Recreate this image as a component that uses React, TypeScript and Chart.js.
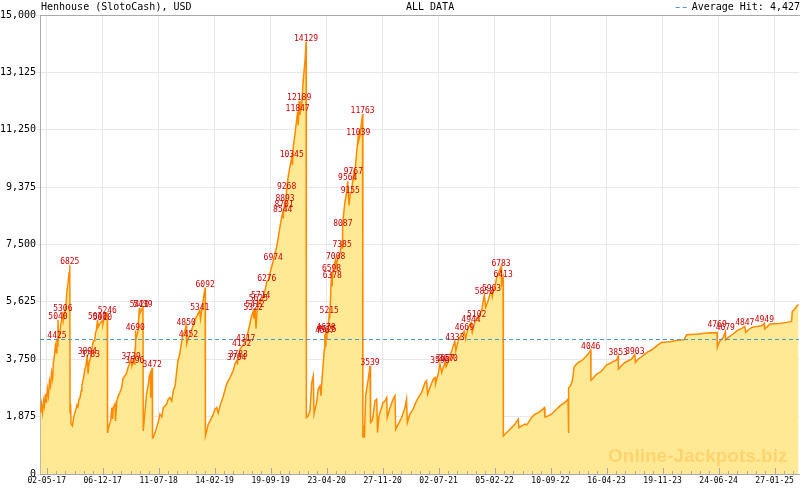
import React, { useEffect, useRef } from "react";
import { Chart, registerables } from "chart.js";

Chart.register(...registerables);

const TITLE = "Henhouse (SlotoCash), USD";
const SUBTITLE = "ALL DATA";
const AVERAGE_HIT = 4427;

// x tick labels, one every 218 days starting at day 0 (02-05-17)
const tickLabels = [
  "02-05-17", "06-12-17", "11-07-18", "14-02-19", "19-09-19", "23-04-20", "27-11-20",
  "02-07-21", "05-02-22", "10-09-22", "16-04-23", "19-11-23", "24-06-24", "27-01-25",
];
const tickStepDays = 218;
const yTicks = [0, 1875, 3750, 5625, 7500, 9375, 11250, 13125, 15000];

// jackpot series: day offset from 02-05-17, value in USD
const days = [
  -24, -20, -16, -12, -9, -5, -1, 3, 7, 11, 15, 19, 23, 26, 30, 34, 38, 40, 42, 44, 46, 52, 56, 60, 63, 65, 71, 75, 79, 83, 87, 90, 91, 93, 95,
  100, 106, 112, 118, 122, 126, 130, 134, 137, 141, 145, 149, 153, 158, 161, 165, 170, 174, 178, 182, 187, 190, 193, 198, 200, 206, 210, 217, 219, 226, 231, 236, 237,
  241, 249, 254, 257, 259, 266, 268, 273, 279, 285, 292, 297, 310, 317, 327, 329, 332, 336, 343, 344, 345, 347, 355, 361, 363, 368, 375, 376,
  383, 389, 396, 400, 404, 405, 407, 411, 412,
  415, 422, 428, 434, 441, 448, 454, 461, 467, 473, 480, 487, 493, 500, 505, 511, 518, 524, 531, 537, 543, 545, 552, 557, 563, 570, 576, 582, 589, 596, 599, 605, 611, 617, 618,
  623, 629, 636, 649, 655, 662, 668, 675, 688, 701, 714, 726, 733, 740, 743, 746, 753, 759, 762, 775, 785, 791, 798, 804, 807, 811, 815, 819, 824, 830, 833, 838, 850, 857, 862, 869, 882, 895, 902, 908, 915, 919, 921, 924, 928, 931, 934, 940, 947, 954, 957, 960, 967, 973, 977, 979, 983, 986, 993, 999, 1006, 1010, 1011,
  1018, 1025, 1032, 1038, 1041, 1045, 1051, 1057, 1064, 1068, 1072, 1077, 1081, 1083, 1085, 1087, 1089, 1091, 1096, 1100, 1102, 1106, 1109, 1111, 1112, 1116, 1122, 1125, 1128, 1135, 1142, 1148, 1150, 1151, 1153, 1155, 1161, 1168, 1172, 1177, 1182, 1187, 1194, 1196, 1200, 1207, 1213, 1215, 1220, 1226, 1230, 1231,
  1233, 1237, 1242, 1246, 1252, 1259, 1261, 1267, 1271, 1278, 1285, 1288, 1294, 1304, 1309, 1317, 1324, 1326, 1337, 1349, 1356, 1359, 1369, 1382, 1395, 1401, 1404, 1414, 1427, 1434, 1447, 1460, 1473, 1479, 1483, 1492, 1505, 1512, 1514, 1524, 1531, 1538, 1551, 1555, 1563, 1577, 1583, 1589, 1593, 1602, 1616, 1626, 1631, 1641, 1652, 1657, 1667, 1674, 1679, 1693, 1700, 1704, 1709, 1719, 1726, 1732, 1735, 1739, 1745, 1752, 1758, 1769, 1771, 1777, 1778,
  1784, 1797, 1810, 1823, 1836, 1839, 1849, 1862, 1869, 1875, 1888, 1901, 1914, 1927, 1937, 1940, 1953, 1966, 1972, 1985, 1998, 2011, 2024, 2030, 2031, 2033, 2040, 2048, 2053, 2057, 2070, 2083, 2096, 2108, 2118, 2119, 2128, 2141, 2154, 2167, 2180, 2193, 2206, 2219, 2225, 2226, 2238, 2251, 2264, 2277, 2290, 2292, 2303, 2316, 2329, 2342, 2355, 2368, 2381, 2394, 2427, 2446, 2466, 2481, 2492, 2537, 2569, 2610, 2611, 2618, 2628, 2634, 2642, 2643, 2653, 2667, 2680, 2692, 2706, 2718, 2721, 2731, 2745, 2764, 2784, 2794, 2795, 2803, 2816, 2855, 2881, 2900, 2903, 2913, 2922, 2927,
];
const values = [
  2000, 2290, 2000, 2390, 2230, 2620, 2325, 2785, 2555, 3045, 2880, 3310, 3110, 3635, 3865, 4190, 3960, 4425, 4190, 5040, 4420, 4685, 4945, 5075, 5306, 5010, 5275, 5500, 5995, 6220, 6580, 6825, 2000, 2300, 1640,
  1572, 1900, 2063, 2260, 2194, 2456, 2489, 2718, 2882, 3046, 3210, 3439, 3537, 3894, 3275, 3635, 3783, 3996, 4192, 4356, 4356, 4618, 4683, 5040, 4800, 4900, 4960, 5010, 4900, 5175, 5240, 5246, 1343,
  1516, 1736, 2171, 1800, 2171, 2293, 1736, 2391, 2555, 2663, 2826, 3111, 3275, 3481, 3701, 3739, 3537, 3635, 3596, 4100, 4690, 4350, 4650, 5420, 5250, 5350, 5439, 1408,
  2063, 2620, 2948, 3210, 3308, 2489, 3275, 3472, 1179,
  1189, 1353, 1516, 1680, 1955, 1867, 2171, 2227, 2283, 2446, 2499, 2391, 2718, 2882, 3265, 3701, 3920, 4248, 4575, 4650, 4850, 4248, 4452, 4520, 4683, 4847, 5011, 5119, 5230, 5341, 5076, 5446, 5774, 6092, 1245,
  1408, 1628, 1736, 1955, 2119, 2171, 1998, 2227, 2555, 2948, 3154, 3373, 3593, 3704, 3635, 3783, 4094, 4152, 4192, 4317, 4683, 4903, 5175, 5322, 5076, 5412, 4749, 5338, 5625, 5568, 5714, 5666, 5993, 6276, 6321, 6540, 6974, 7411, 7739, 8066, 8394, 8544, 8351, 8701, 8893, 8777, 9268, 9704, 10031, 10345, 10087, 10686, 11125, 11561, 11847, 11397, 12189, 11725, 12108, 12871, 13526, 14129, 1844,
  1900, 2063, 2990, 3210, 1965, 2119, 2335, 2774, 2882, 2555, 3101, 3645, 4084, 4567, 4192, 4678, 4421, 4625, 4847, 5215, 5076, 5938, 6598, 6157, 6378, 6704, 6920, 7008, 6812, 7140, 7200, 7500, 7385, 7600, 8087, 8400, 8885, 9213, 9564, 8777, 9155, 9213, 9767, 9596, 9868, 10523, 11039, 10906, 11070, 11505, 11763, 1189,
  1572, 1189, 2555, 2774, 3101, 3539, 1680, 1736, 1900, 2391, 2446, 1353, 1900, 2171, 2325, 2391, 2499, 1844, 2171, 2446, 2555, 1464, 1628, 1844, 2171, 2446, 1680, 1955, 2119, 2283, 2499, 2663, 2990, 3046, 2610, 2826, 3101, 3154, 2948, 3265, 3596, 3318, 3657, 3504, 3670, 4028, 4192, 4333, 4028, 4356, 4575, 4669, 4411, 4791, 4944, 4628, 4955, 5102, 5076, 5338, 5666, 5850, 5446, 5666, 5885, 5963, 5797, 5993, 6101, 6429, 6540, 6783, 6213, 6413, 1245,
  1300, 1408, 1516, 1628, 1791, 1516, 1572, 1628, 1605, 1680, 1844, 1955, 2008, 2086, 2171, 1867, 1900, 1955, 2008, 2119, 2227, 2302, 2391, 2446, 1343, 2826, 2882, 3101, 3481, 3537, 3645, 3701, 3809, 3920, 4046, 3069, 3134, 3265, 3318, 3429, 3570, 3612, 3678, 3724, 3853, 3429, 3537, 3645, 3701, 3756, 3903, 3645, 3756, 3832, 3920, 3996, 4051, 4136, 4225, 4300, 4323, 4356, 4379, 4389, 4552, 4575, 4608, 4620, 4136, 4300, 4411, 4464, 4640, 4379, 4464, 4542, 4628, 4706, 4759, 4820, 4628, 4706, 4791, 4824, 4847, 4930, 4739, 4791, 4903, 4922, 4955, 4988, 5315, 5394, 5502, 5535,
];

// labelled hits
const hitDays = [
  40, 44, 63, 90, 158, 170, 198, 217, 236, 329, 343, 345, 361, 375, 411, 543, 552, 596, 617,
  740, 746, 759, 775, 804, 811, 824, 833, 857, 882, 919, 924, 928, 934, 954, 977, 983, 1010,
  1083, 1087, 1091, 1100, 1109, 1112, 1125, 1150, 1153, 1172, 1182, 1194, 1213, 1230, 1259,
  1531, 1551, 1563, 1589, 1626, 1652, 1674, 1704, 1732, 1769, 1777,
  2118, 2225, 2290, 2610, 2642, 2718, 2794,
];
const hitValues = [
  4425, 5040, 5306, 6825, 3894, 3783, 5040, 5010, 5246, 3739, 3596, 4690, 5420, 5439, 3472, 4850, 4452, 5341, 6092,
  3704, 3783, 4152, 4317, 5322, 5412, 5625, 5714, 6276, 6974, 8544, 8701, 8893, 9268, 10345, 11847, 12189, 14129,
  4567, 4678, 4625, 5215, 6598, 6378, 7008, 7385, 8087, 9564, 9155, 9767, 11039, 11763, 3539,
  3596, 3657, 3670, 4333, 4669, 4944, 5102, 5850, 5963, 6783, 6413,
  4046, 3853, 3903, 4769, 4679, 4847, 4949,
];

const MONO = '"DejaVu Sans Mono", monospace';

export default function App() {
  const ref = useRef<HTMLCanvasElement | null>(null);

  useEffect(() => {
    document.body.style.margin = "0";
    const canvas = ref.current;
    if (!canvas) return;

    const tickDays = tickLabels.map((_, i) => i * tickStepDays);

    const decor = {
      id: "decor",
      afterDatasetsDraw(chart: any) {
        const { ctx, chartArea, scales } = chart;
        const xs = scales.x;
        const ys = scales.y;
        ctx.save();
        // watermark
        ctx.font = 'bold 19px "Liberation Sans", Arial, sans-serif';
        ctx.fillStyle = "rgba(255,150,0,0.26)";
        ctx.textAlign = "left";
        ctx.textBaseline = "middle";
        ctx.fillText("Online-Jackpots.biz", 608, 457);

        // average line
        const ay = Math.round(ys.getPixelForValue(AVERAGE_HIT)) + 0.5;
        ctx.strokeStyle = "#4a97cc";
        ctx.lineWidth = 1;
        ctx.setLineDash([4, 3]);
        ctx.beginPath();
        ctx.moveTo(chartArea.left, ay);
        ctx.lineTo(chartArea.right, ay);
        ctx.stroke();
        ctx.setLineDash([]);

        // x ticks (inside, upward)
        ctx.strokeStyle = "#aaaaaa";
        ctx.lineWidth = 1;
        const b = chartArea.bottom;
        for (let i = 0; i < tickDays.length; i++) {
          for (let k = 0; k < 6; k++) {
            const d = tickDays[i] + (k * tickStepDays) / 6;
            if (d > xs.max) break;
            const px = Math.round(xs.getPixelForValue(d)) + 0.5;
            const len = k === 0 ? 6 : 3;
            ctx.beginPath();
            ctx.moveTo(px, b);
            ctx.lineTo(px, b - len);
            ctx.stroke();
          }
        }
        // minor ticks before first major
        for (let k = 1; k < 6; k++) {
          const d = -(k * tickStepDays) / 6;
          if (d < xs.min) break;
          const px = Math.round(xs.getPixelForValue(d)) + 0.5;
          ctx.beginPath();
          ctx.moveTo(px, b);
          ctx.lineTo(px, b - 3);
          ctx.stroke();
        }

        // top border
        ctx.strokeStyle = "#aaaaaa";
        ctx.beginPath();
        ctx.moveTo(chartArea.left, chartArea.top + 0.5);
        ctx.lineTo(chart.width, chartArea.top + 0.5);
        ctx.stroke();

        // hit labels
        ctx.font = `8px ${MONO}`;
        ctx.fillStyle = "#cc0000";
        ctx.textAlign = "center";
        ctx.textBaseline = "bottom";
        for (let i = 0; i < hitDays.length; i++) {
          const px = xs.getPixelForValue(hitDays[i]);
          const py = ys.getPixelForValue(hitValues[i]);
          ctx.fillText(String(hitValues[i]), px, py + 1);
        }

        // header texts
        ctx.font = `10px ${MONO}`;
        ctx.fillStyle = "#000";
        ctx.textBaseline = "middle";
        ctx.textAlign = "left";
        ctx.fillText(TITLE, 41, 7);
        ctx.fillText(SUBTITLE, 406, 7);
        ctx.textAlign = "right";
        const legendText = "Average Hit: " + AVERAGE_HIT.toLocaleString("en-US");
        ctx.fillText(legendText, 800, 7);
        const tw = ctx.measureText(legendText).width;
        ctx.strokeStyle = "#4a97cc";
        ctx.setLineDash([4, 3]);
        ctx.beginPath();
        ctx.moveTo(800 - tw - 16, 7.5);
        ctx.lineTo(800 - tw - 2, 7.5);
        ctx.stroke();
        ctx.setLineDash([]);
        ctx.restore();
      },
    };

    const chart = new Chart(canvas, {
      type: "line",
      data: {
        datasets: [
          {
            data: days.map((d, i) => ({ x: d, y: values[i] })),
            borderColor: "#ff8a00",
            backgroundColor: "#ffe994",
            borderWidth: 1.5,
            fill: "origin",
            pointRadius: 0,
            tension: 0,
          },
        ],
      },
      options: {
        animation: false,
        responsive: false,
        devicePixelRatio: 1,
        layout: { padding: { top: 15, right: 1, left: 0, bottom: 0 } },
        plugins: { legend: { display: false }, tooltip: { enabled: false }, title: { display: false } },
        scales: {
          x: {
            type: "linear",
            min: -26,
            max: 2929,
            afterBuildTicks: (s: any) => {
              s.ticks = tickDays.map((v) => ({ value: v }));
            },
            afterFit: (s: any) => {
              s.height = 16;
            },
            ticks: {
              autoSkip: false,
              maxRotation: 0,
              minRotation: 0,
              padding: 2,
              color: "#000",
              font: { family: MONO, size: 8 },
              callback: (_v: any, i: number) => tickLabels[i],
            },
            grid: { color: "#e8e8e8", drawTicks: false },
            border: { color: "#aaaaaa" },
          },
          y: {
            min: 0,
            max: 15000,
            afterBuildTicks: (s: any) => {
              s.ticks = yTicks.map((v) => ({ value: v }));
            },
            afterFit: (s: any) => {
              s.width = 40;
            },
            ticks: {
              padding: 0,
              color: "#000",
              font: { family: MONO, size: 10 },
              callback: (v: any) => Number(v).toLocaleString("en-US"),
            },
            grid: { color: "#e8e8e8", tickLength: 4 },
            border: { color: "#aaaaaa" },
          },
        },
      },
      plugins: [decor],
    });

    return () => chart.destroy();
  }, []);

  return (
    <div style={{ width: 800, height: 490, background: "#fff" }}>
      <canvas ref={ref} width={800} height={490} style={{ width: 800, height: 490, display: "block" }} />
    </div>
  );
}
